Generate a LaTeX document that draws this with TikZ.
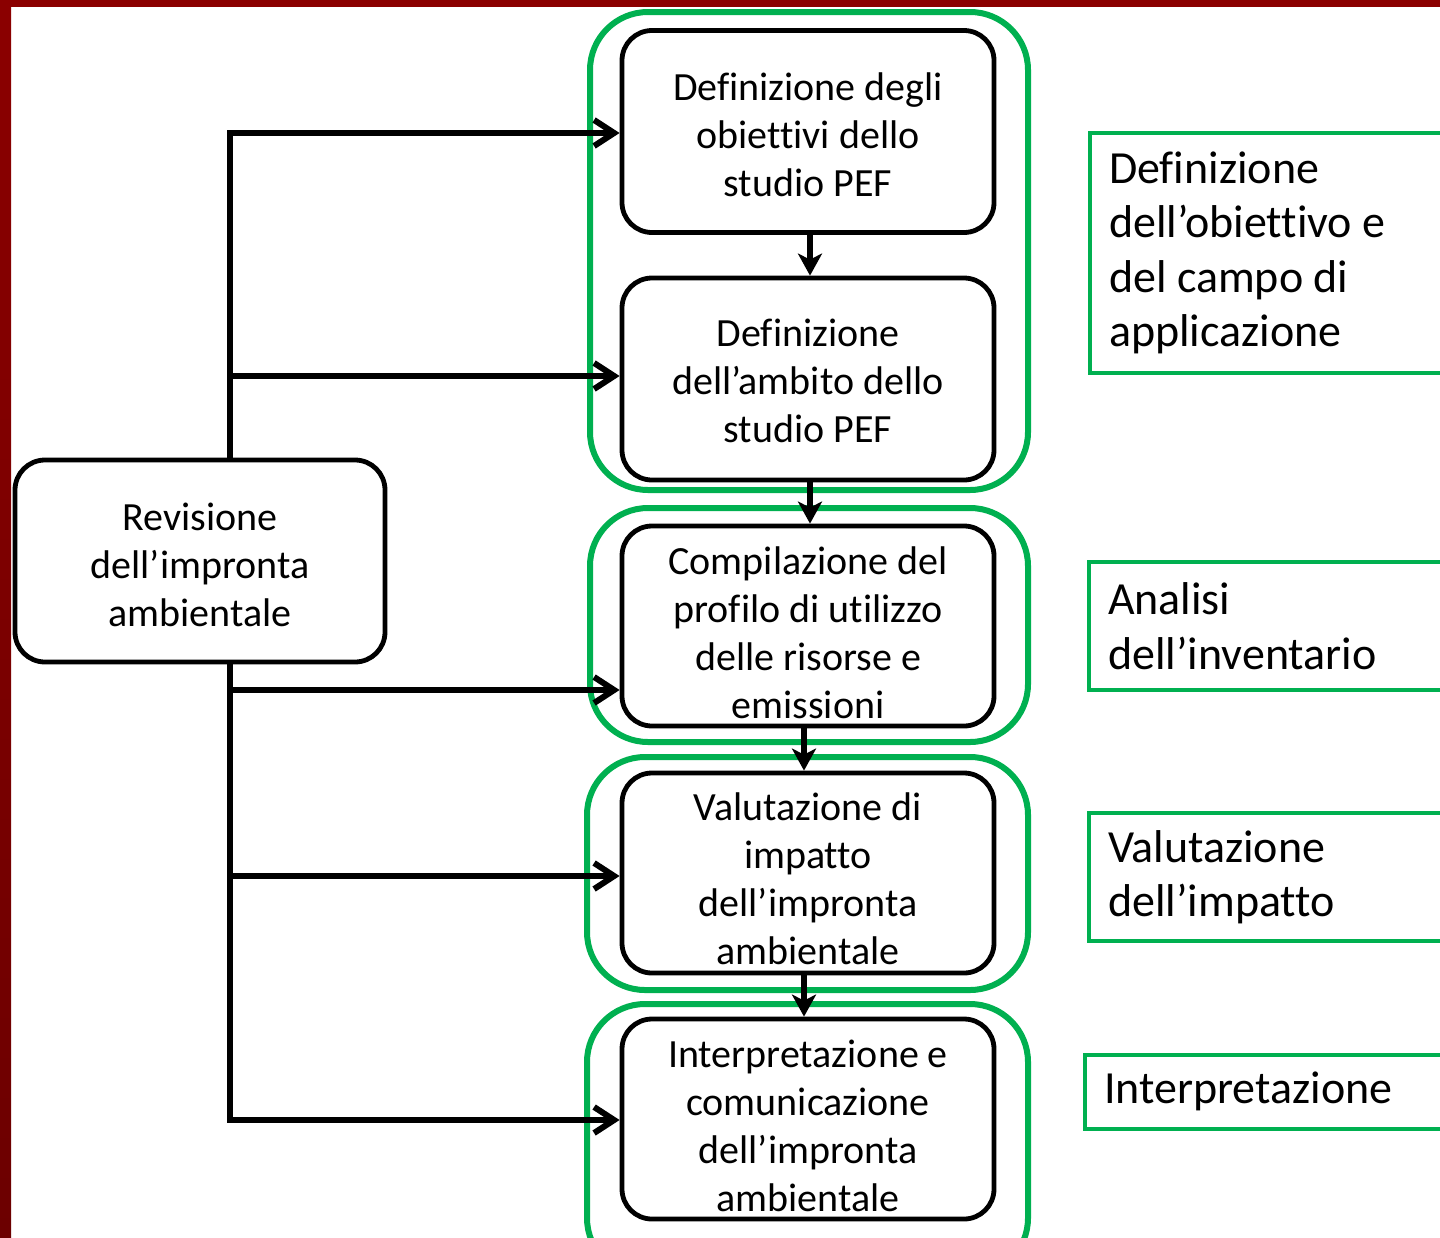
\documentclass[tikz,border=0pt]{standalone}
\usepackage{fontspec}
\setmainfont{Carlito}[Ligatures=NoCommon]
\usetikzlibrary{arrows.meta,calc}
\definecolor{grn}{HTML}{00B050}
\definecolor{dred}{HTML}{8B0000}
\definecolor{dredb}{HTML}{6C0000}
\begin{document}
\begin{tikzpicture}[x=0.5pt,y=-0.5pt,
  mainbox/.style={draw=black, line width=2.4pt, rounded corners=15pt, fill=white,
    minimum width=186pt, minimum height=101pt, inner sep=0pt},
  txt/.style={align=center, inner sep=0pt, font=\fontsize{20}{24}\selectfont},
  group/.style={draw=grn, line width=3pt, rounded corners=29pt, minimum width=219pt, inner sep=0pt},
  rbox/.style={draw=grn, line width=2pt, anchor=west, text width=170pt, inner xsep=9.5pt,
    inner ysep=0pt, align=flush left, font=\fontsize{23}{27.25}\selectfont},
  conn/.style={line width=3pt, -{Straight Barb[length=10pt,width=13pt]}},
  varr/.style={line width=3pt, -{Stealth[length=11pt,width=12pt,inset=3pt]}}
]
\useasboundingbox (0,0) rectangle (1440,1237);
\clip (0,0) rectangle (1440,1237);
\fill[white] (0,0) rectangle (1440,1237);
\shade[top color=dred, bottom color=dredb] (0,0) rectangle (11,1237);
\fill[dred] (0,0) rectangle (1440,7);

% green group outlines
\node[group, minimum height=239pt] (g1) at (809,251) {};
\node[group, minimum height=117pt] (g2) at (809,625) {};
\node[group, minimum height=116.5pt, minimum width=220.5pt] (g3) at (807.5,873.5) {};
\node[group, minimum height=136pt, minimum width=220.5pt] (g4) at (807.5,1140) {};

% main boxes
\node[mainbox, label={[txt,yshift=-1.5pt]center:{Definizione degli\\obiettivi dello\\studio PEF}}] (b1) at (808,131.5) {};
\node[mainbox, label={[txt,yshift=-1pt]center:{Definizione\\dell’ambito dello\\studio PEF}}] (b2) at (808,379) {};
\node[mainbox, minimum height=100pt, label={[txt,yshift=-3.5pt]center:{Compilazione del\\profilo di utilizzo\\delle risorse e\\emissioni}}] (b3) at (808,626) {};
\node[mainbox, minimum height=100pt, label={[txt,yshift=-3pt]center:{Valutazione di\\impatto\\dell’impronta\\ambientale}}] (b4) at (808,873) {};
\node[mainbox, minimum height=100pt, label={[txt,yshift=-3.5pt]center:{Interpretazione e\\comunicazione\\dell’impronta\\ambientale}}] (b5) at (808,1119) {};

% revision box
\node[mainbox, minimum width=185pt, label={[txt,yshift=-2pt]center:{Revisione\\dell’impronta\\ambientale}}] (rev) at (200,561) {};

% right phase labels
\node[rbox, minimum height=120pt] (r1) at (1088,253) {Definizione\\dell’obiettivo e\\del campo di\\applicazione};
\node[rbox, minimum height=64pt] (r2) at (1087,626) {Analisi\\dell’inventario};
\node[rbox, minimum height=64pt] (r3) at (1087,877) {Valutazione\\dell’impatto};
\node[rbox, minimum height=37pt] (r4) at (1083,1091.5) {Interpretazione};

% junction points on the trunk
\coordinate (j1) at (230,133);
\coordinate (j2) at (230,376);
\coordinate (j3) at (230,690);
\coordinate (j4) at (230,876);
\coordinate (j5) at (230,1120);

% trunk + arrows
\draw[conn] (rev.north -| j1) -- (j1) -- (j1 -| b1.west);
\draw[conn] (j2) -- (j2 -| b2.west);
\draw[conn] (j3) -- (j3 -| b3.west);
\draw[conn] (j4) -- (j4 -| b4.west);
\draw[conn] (rev.south -| j5) -- (j5) -- (j5 -| b5.west);

% vertical flow arrows
\draw[varr] ($(b1.south)+(2,0)$) -- ($(b2.north)+(2,0)$);
\draw[varr] ($(b2.south)+(2,0)$) -- ($(b3.north)+(2,0)$);
\draw[varr] ($(b3.south)+(-4,0)$) -- ($(b4.north)+(-4,0)$);
\draw[varr] ($(b4.south)+(-4,0)$) -- ($(b5.north)+(-4,0)$);
\end{tikzpicture}
\end{document}
